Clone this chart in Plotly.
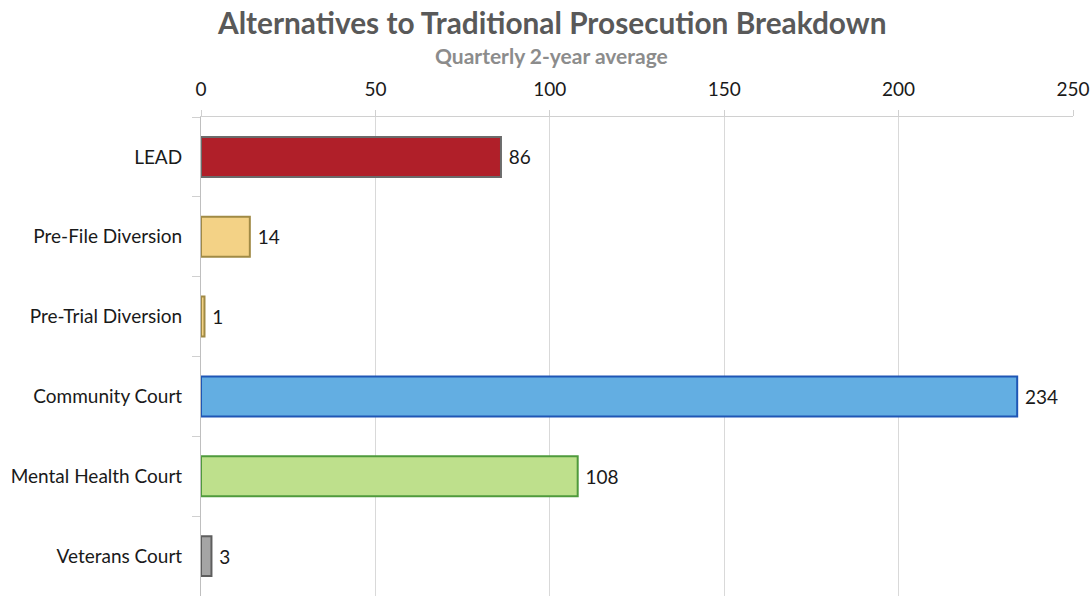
import plotly.graph_objects as go

categories = ["LEAD", "Pre-File Diversion", "Pre-Trial Diversion", "Community Court",
              "Mental Health Court", "Veterans Court"]
values = [86, 14, 1, 234, 108, 3]
fill_colors = ["#B01F29", "#F3D286", "#F3D286", "#63AEE2", "#BEE08C", "#A5A5A5"]
line_colors = ["#6B6B6B", "#A08A45", "#A08A45", "#1F56B5", "#4F9A3C", "#5E5E5E"]
x_ticks = [0, 50, 100, 150, 200, 250]

FONT = "Lato"
L, R, T, B = 201, 17, 117, 0
PW, PH = 1090 - L - R, 596 - T - B

fig = go.Figure(go.Bar(
    x=values, y=categories, orientation="h", width=0.5,
    marker=dict(color=fill_colors, line=dict(color=line_colors, width=2)),
    text=[f" {v}" for v in values], textposition="outside",
    textfont=dict(family=FONT, size=19, color="#1a1a1a"),
    cliponaxis=False, hoverinfo="skip",
))

fig.update_layout(
    width=1090, height=596,
    margin=dict(l=L, r=R, t=T, b=B, autoexpand=False),
    paper_bgcolor="white", plot_bgcolor="white",
    showlegend=False,
    font=dict(family=FONT, size=19, color="#1a1a1a"),
)
fig.add_annotation(text="<b>Alternatives to Traditional Prosecution Breakdown</b>",
                   xref="paper", yref="paper", x=(551 - L) / PW, y=1 + (T - 22) / PH,
                   showarrow=False, yanchor="middle", xanchor="center",
                   font=dict(family=FONT, size=29.8, color="#595959"))
fig.add_annotation(text="<b>Quarterly 2-year average</b>",
                   xref="paper", yref="paper", x=(551 - L) / PW, y=1 + (T - 56) / PH,
                   showarrow=False, yanchor="middle", xanchor="center",
                   font=dict(family=FONT, size=21, color="#8C8C8C"))

fig.update_xaxes(
    side="top", range=[0, 250], tickvals=x_ticks, ticktext=[str(t) for t in x_ticks],
    showgrid=True, gridcolor="#D9D9D9", gridwidth=1,
    showline=True, linecolor="#D0D0D0", linewidth=1,
    ticks="outside", ticklen=6, tickcolor="#D0D0D0",
    tickfont=dict(family=FONT, size=19, color="#1a1a1a"),
    ticklabelstandoff=6,
    zeroline=False, fixedrange=True, automargin=False,
)
fig.update_yaxes(
    autorange="reversed", tickson="boundaries", ticks="outside", ticklen=8,
    tickcolor="#D0D0D0", showline=True, linecolor="#BFBFBF", linewidth=1,
    showgrid=False, tickfont=dict(family=FONT, size=19, color="#1a1a1a"),
    ticklabelstandoff=14, fixedrange=True, automargin=False,
)

fig.write_html("out.html", config={"displayModeBar": False},
               post_script="document.body.style.margin='0';")
